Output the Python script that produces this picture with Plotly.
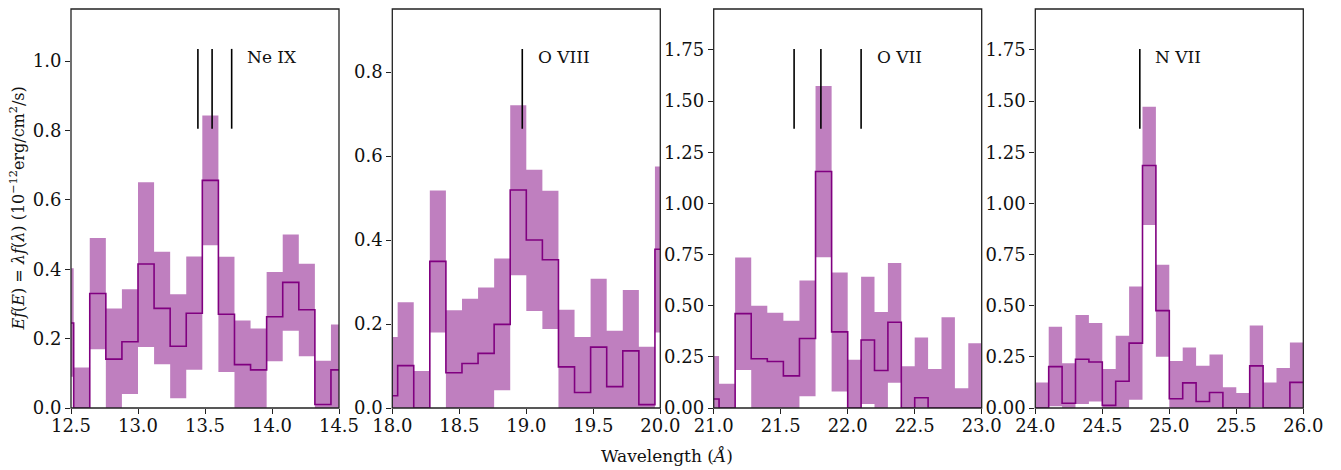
import plotly.graph_objects as go

# ---- data ----
# bin edges (Angstrom); the first/last bins run past the axis limits
edges_ne = [12.40, 12.52, 12.64, 12.76, 12.88, 13.00, 13.12, 13.24, 13.36, 13.48,
            13.60, 13.72, 13.84, 13.96, 14.08, 14.20, 14.32, 14.44, 14.56]
flux_ne = [0.245, 0.0, 0.33, 0.141, 0.191, 0.415, 0.287, 0.178, 0.273, 0.656,
           0.27, 0.125, 0.11, 0.263, 0.362, 0.283, 0.01, 0.11]
lo_ne = [0.09, 0.0, 0.169, 0.0, 0.04, 0.176, 0.126, 0.028, 0.11, 0.469,
         0.104, 0.0, 0.0, 0.135, 0.223, 0.149, 0.0, 0.0]
hi_ne = [0.403, 0.117, 0.49, 0.287, 0.342, 0.651, 0.45, 0.328, 0.437, 0.843,
         0.436, 0.252, 0.229, 0.392, 0.50, 0.416, 0.136, 0.241]

edges_o8 = [17.92, 18.04, 18.16, 18.28, 18.40, 18.52, 18.64, 18.76, 18.88, 19.00,
            19.12, 19.24, 19.36, 19.48, 19.60, 19.72, 19.84, 19.96, 20.08]
flux_o8 = [0.029, 0.101, 0.0, 0.349, 0.084, 0.106, 0.13, 0.199, 0.519, 0.40,
           0.353, 0.098, 0.037, 0.145, 0.051, 0.136, 0.008, 0.378]
lo_o8 = [0.0, 0.0, 0.0, 0.18, 0.0, 0.0, 0.0, 0.042, 0.316, 0.231,
         0.188, 0.0, 0.0, 0.0, 0.0, 0.0, 0.0, 0.18]
hi_o8 = [0.169, 0.252, 0.088, 0.518, 0.233, 0.26, 0.287, 0.356, 0.721, 0.567,
         0.517, 0.234, 0.169, 0.308, 0.184, 0.281, 0.146, 0.575]

edges_o7 = [20.92, 21.04, 21.16, 21.28, 21.40, 21.52, 21.64, 21.76, 21.88, 22.00,
            22.10, 22.20, 22.30, 22.40, 22.50, 22.60, 22.70, 22.80, 22.90, 23.00]
flux_o7 = [0.044, 0.0, 0.461, 0.241, 0.227, 0.157, 0.34, 1.156, 0.372, 0.0,
           0.332, 0.183, 0.419, 0.0, 0.05, 0.0, 0.0, 0.0, 0.0]
lo_o7 = [0.0, 0.0, 0.186, 0.0, 0.0, 0.0, 0.057, 0.737, 0.081, 0.0,
         0.019, 0.0, 0.123, 0.0, 0.0, 0.0, 0.0, 0.0, 0.0]
hi_o7 = [0.254, 0.118, 0.735, 0.50, 0.465, 0.427, 0.623, 1.574, 0.662, 0.236,
         0.641, 0.469, 0.709, 0.204, 0.345, 0.191, 0.444, 0.096, 0.316]

edges_n7 = [24.0, 24.1, 24.2, 24.3, 24.4, 24.5, 24.6, 24.7, 24.8, 24.9, 25.0,
            25.1, 25.2, 25.3, 25.4, 25.5, 25.6, 25.7, 25.8, 25.9, 26.0]
flux_n7 = [0.0, 0.202, 0.023, 0.238, 0.225, 0.013, 0.131, 0.317, 1.185, 0.476,
           0.045, 0.123, 0.032, 0.076, 0.0, 0.0, 0.206, 0.0, 0.0, 0.125]
lo_n7 = [0.0, 0.008, 0.0, 0.019, 0.032, 0.0, 0.0, 0.04, 0.894, 0.251,
         0.0, 0.0, 0.0, 0.0, 0.0, 0.0, 0.005, 0.0, 0.0, 0.0]
hi_n7 = [0.125, 0.397, 0.219, 0.455, 0.416, 0.191, 0.353, 0.594, 1.472, 0.70,
         0.23, 0.296, 0.206, 0.261, 0.102, 0.073, 0.403, 0.125, 0.196, 0.32]

ion_names = ['Ne IX', 'O VIII', 'O VII', 'N VII']
ion_lines = [[13.447, 13.553, 13.699], [18.97], [21.60, 21.80, 22.10], [24.78]]
x_ranges = [[12.5, 14.5], [18.0, 20.0], [21.0, 23.0], [24.0, 26.0]]
y_ranges = [[0, 1.15], [0, 0.95], [0, 1.95], [0, 1.95]]
y_ticks = [[0.0, 0.2, 0.4, 0.6, 0.8, 1.0], [0.0, 0.2, 0.4, 0.6, 0.8],
           [0.0, 0.25, 0.5, 0.75, 1.0, 1.25, 1.5, 1.75],
           [0.0, 0.25, 0.5, 0.75, 1.0, 1.25, 1.5, 1.75]]
y_fmt = ['.1f', '.1f', '.2f', '.2f']

panels = [(edges_ne, flux_ne, lo_ne, hi_ne), (edges_o8, flux_o8, lo_o8, hi_o8),
          (edges_o7, flux_o7, lo_o7, hi_o7), (edges_n7, flux_n7, lo_n7, hi_n7)]

# the page body has an 8px margin, so the figure is sized to the visible area
W, H = 1333, 462
domains = [[63, 331], [384.3, 652.3], [705.7, 973.7], [1027.3, 1295.3]]

FONT = 'DejaVu Serif'
PURPLE = 'purple'
BAND = 'rgba(128,0,128,0.5)'
FRAME = '#222'

fig = go.Figure()
layout = {}
for i, (edges, flux, lo, hi) in enumerate(panels):
    n = i + 1
    xa = 'x' if n == 1 else 'x%d' % n
    ya = 'y' if n == 1 else 'y%d' % n
    # step arrays: repeat last value so 'hv' draws the last bin fully
    lo_s = lo + [lo[-1]]
    hi_s = hi + [hi[-1]]
    fl_s = flux + [flux[-1]]
    fig.add_trace(go.Scatter(x=edges, y=lo_s, mode='lines', line_shape='hv',
                             line=dict(width=0, color=BAND), xaxis=xa, yaxis=ya,
                             showlegend=False, hoverinfo='skip'))
    fig.add_trace(go.Scatter(x=edges, y=hi_s, mode='lines', line_shape='hv',
                             line=dict(width=0, color=BAND), fill='tonexty',
                             fillcolor=BAND, xaxis=xa, yaxis=ya,
                             showlegend=False, hoverinfo='skip'))
    fig.add_trace(go.Scatter(x=edges, y=fl_s, mode='lines', line_shape='hv',
                             line=dict(width=1.6, color=PURPLE), xaxis=xa, yaxis=ya,
                             showlegend=False))

    axis_common = dict(showline=False, ticks='outside', ticklen=5, tickwidth=1.1,
                       tickcolor=FRAME, showgrid=False, zeroline=False, automargin=False,
                       tickfont=dict(family=FONT, size=18, color='#111'))
    layout['xaxis' if n == 1 else 'xaxis%d' % n] = dict(
        domain=[domains[i][0] / W, domains[i][1] / W], range=x_ranges[i],
        tickmode='array', tickvals=[x_ranges[i][0] + 0.5 * k for k in range(5)],
        tickformat='.1f', anchor=ya, ticklabelstandoff=-4, **axis_common)
    layout['yaxis' if n == 1 else 'yaxis%d' % n] = dict(
        domain=[0, 1], range=y_ranges[i], tickmode='array', tickvals=y_ticks[i],
        tickformat=y_fmt[i], anchor=xa, **axis_common)

    # panel frame
    fig.add_shape(type='rect', x0=0, x1=1, y0=0, y1=1, xref=xa + ' domain',
                  yref=ya + ' domain', line=dict(color=FRAME, width=1.3),
                  fillcolor='rgba(0,0,0,0)', layer='above')

    # ion line markers
    for lam in ion_lines[i]:
        fig.add_shape(type='line', x0=lam, x1=lam, y0=0.7, y1=0.9,
                      xref=xa, yref=ya + ' domain',
                      line=dict(color='black', width=1.6))
    fig.add_annotation(x=ion_lines[i][-1] + 0.1, y=0.88, xref=xa, yref=ya + ' domain',
                       text=ion_names[i], showarrow=False, xanchor='left',
                       yanchor='middle', font=dict(family=FONT, size=17, color='#111'))

fig.add_annotation(x=10 / W, y=0.5, xref='paper', yref='paper', textangle=-90,
                   text='<i>Ef</i>(<i>E</i>) = <i>λf</i>(<i>λ</i>) (10<sup>−12</sup>erg/cm<sup>2</sup>/s)',
                   showarrow=False, xanchor='center', yanchor='middle',
                   font=dict(family=FONT, size=16, color='#111'))
fig.add_annotation(x=659 / W, y=-0.12, xref='paper', yref='paper',
                   text='Wavelength (<i>Å</i>)', showarrow=False,
                   xanchor='center', yanchor='middle',
                   font=dict(family=FONT, size=17, color='#111'))

fig.update_layout(
    width=W, height=H,
    margin=dict(l=0, r=0, t=1, b=62, autoexpand=False),
    plot_bgcolor='white', paper_bgcolor='white',
    **layout
)

fig.write_html("out.html")
